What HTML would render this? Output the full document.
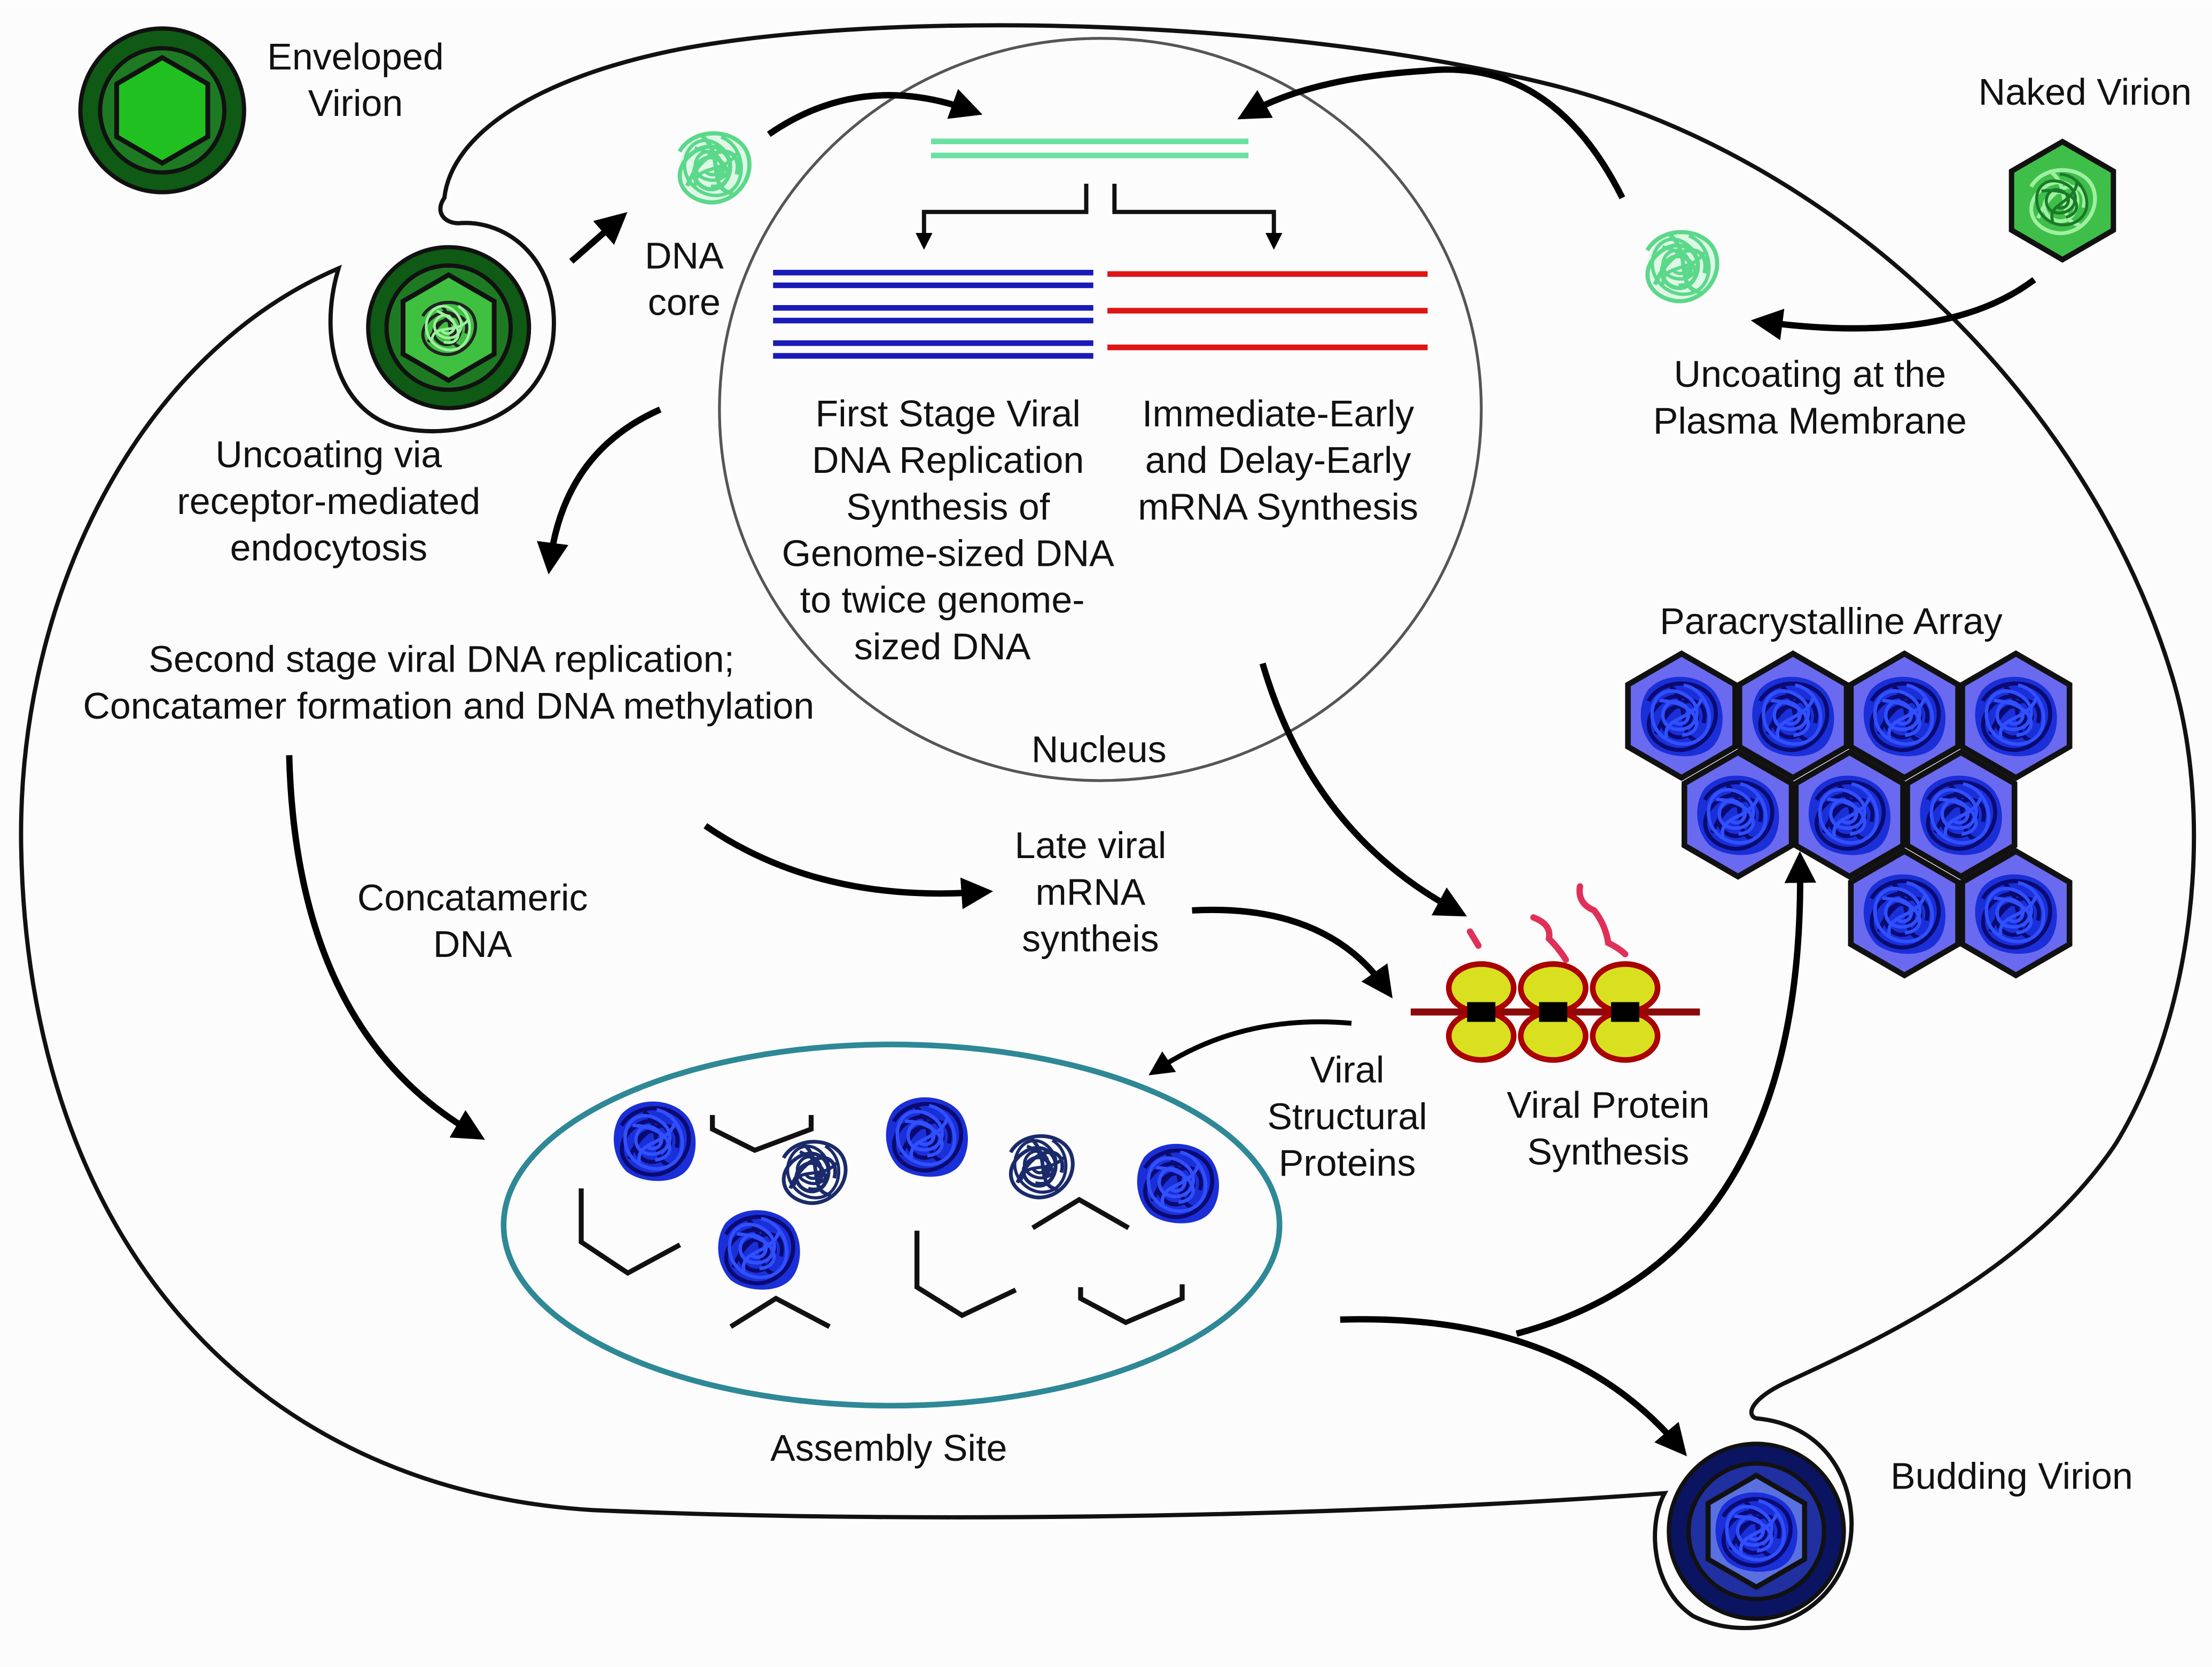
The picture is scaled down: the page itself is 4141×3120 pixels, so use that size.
<!DOCTYPE html>
<html><head><meta charset="utf-8"><style>
html,body{margin:0;padding:0;background:#fff;}
svg{display:block}
text{font-family:"Liberation Sans",Arial,sans-serif;font-size:26.5px;fill:#111;text-anchor:middle}
</style></head><body>
<svg width="4141" height="3120" viewBox="0 0 1568 1181" xmlns="http://www.w3.org/2000/svg">
<defs>
<marker id="ah" viewBox="0 0 10 10" refX="6" refY="5" markerWidth="5" markerHeight="5" orient="auto" markerUnits="strokeWidth">
<path d="M0,0 L10,5 L0,10 z" fill="#000"/></marker>
<marker id="ah2" viewBox="0 0 10 10" refX="6" refY="5" markerWidth="4" markerHeight="4" orient="auto" markerUnits="strokeWidth">
<path d="M0,0 L10,5 L0,10 z" fill="#000"/></marker>
<g id="tang">
<path d="M-18,-8 C-10,-22 14,-20 18,-6 C22,8 8,22 -6,18 C-20,14 -22,0 -10,-8 C2,-16 14,-4 6,8 C-2,18 -16,6 -8,-2 C0,-10 10,0 2,6 M-14,10 C-4,-14 16,-12 12,4 M-6,-16 C6,-6 -4,12 10,14" fill="none" stroke-width="2.2"/>
</g>
<g id="blob">
<path d="M-24,-18 C-12,-32 14,-30 24,-16 C32,-4 30,14 22,22 C12,32 -10,30 -20,22 C-30,12 -32,-6 -24,-18 Z" fill="#1a2fd8"/>
<use href="#tang" stroke="#0a0a70" transform="scale(1.3)"/>
<use href="#tang" stroke="#3050ff" transform="rotate(70) scale(1.1)"/>
</g>
<polygon id="hex" points="0,-44 38,-22 38,22 0,44 -38,22 -38,-22"/>
</defs>
<rect width="1568" height="1181" fill="#fcfcfc"/>

<!-- Cell membrane (single closed curve) -->
<path d="M315,140 C320,95 380,55 480,35 C620,8 900,10 1100,60 C1300,110 1480,280 1540,480 C1570,580 1555,720 1500,810 C1440,900 1330,950 1265,980 C1240,992 1238,1003 1245,1005 C1300,1010 1320,1060 1310,1100 C1295,1150 1240,1165 1200,1145 C1170,1125 1168,1080 1180,1058 C950,1075 650,1080 420,1070 C180,1055 20,880 15,600 C12,420 100,250 240,190 C225,240 240,290 280,302 C330,315 385,290 392,240 C398,185 360,155 325,158 C315,158 308,150 315,140 Z" fill="none" stroke="#111" stroke-width="3"/>

<!-- Nucleus -->
<ellipse cx="780" cy="290" rx="270" ry="263" fill="none" stroke="#555" stroke-width="2"/>

<!-- Assembly site -->
<ellipse cx="632" cy="868" rx="275" ry="128" fill="none" stroke="#2e8896" stroke-width="4"/>

<!-- Enveloped virion -->
<circle cx="115" cy="78" r="58" fill="#0f5a14" stroke="#111" stroke-width="3"/>
<circle cx="115" cy="78" r="44" fill="#1e7a22" stroke="#111" stroke-width="3"/>
<g transform="translate(115,78) scale(0.85)"><use href="#hex" fill="#20c020" stroke="#111" stroke-width="4"/></g>

<!-- Endocytosed virion -->
<circle cx="318" cy="232" r="57" fill="#0f5a14" stroke="#111" stroke-width="3"/>
<circle cx="318" cy="232" r="44" fill="#1e7a22" stroke="#111" stroke-width="3"/>
<g transform="translate(318,232) scale(0.85)"><use href="#hex" fill="#40c040" stroke="#111" stroke-width="4"/>
<use href="#tang" stroke="#222" transform="scale(1.2)"/><use href="#tang" stroke="#9ef0a0" transform="rotate(90)"/></g>

<!-- DNA core -->
<g transform="translate(506,118)"><circle r="24" fill="#c8f5d6" opacity=".6"/><use href="#tang" stroke="#5bd88a" transform="scale(1.35)"/><use href="#tang" stroke="#5bd88a" transform="rotate(80) scale(1.1)"/></g>
<g transform="translate(1192,188)"><circle r="24" fill="#c8f5d6" opacity=".6"/><use href="#tang" stroke="#5bd88a" transform="scale(1.35)"/><use href="#tang" stroke="#5bd88a" transform="rotate(80) scale(1.1)"/></g>

<!-- Naked virion -->
<g transform="translate(1462,142) scale(0.95)"><use href="#hex" fill="#3fbf4a" stroke="#111" stroke-width="4"/><use href="#tang" stroke="#9ef0a0" transform="scale(1.3)"/><use href="#tang" stroke="#1a7a2a" transform="rotate(60)"/></g>

<!-- DNA strands -->
<line x1="660" y1="100" x2="885" y2="100" stroke="#6be0a0" stroke-width="4"/>
<line x1="660" y1="110" x2="885" y2="110" stroke="#6be0a0" stroke-width="4"/>
<path d="M770,130 V150 H655 V172" fill="none" stroke="#111" stroke-width="3" marker-end="url(#ah2)"/>
<path d="M790,130 V150 H903 V172" fill="none" stroke="#111" stroke-width="3" marker-end="url(#ah2)"/>
<g stroke="#1a1ab8" stroke-width="4">
<line x1="548" y1="193" x2="775" y2="193"/><line x1="548" y1="202" x2="775" y2="202"/>
<line x1="548" y1="218" x2="775" y2="218"/><line x1="548" y1="227" x2="775" y2="227"/>
<line x1="548" y1="243" x2="775" y2="243"/><line x1="548" y1="252" x2="775" y2="252"/>
</g>
<g stroke="#e01414" stroke-width="4">
<line x1="785" y1="194" x2="1012" y2="194"/><line x1="785" y1="220" x2="1012" y2="220"/><line x1="785" y1="246" x2="1012" y2="246"/>
</g>

<!-- Arrows -->
<g fill="none" stroke="#000" stroke-width="4.5">
<path d="M405,185 L438,156" marker-end="url(#ah)"/>
<path d="M545,95 Q610,50 688,78" marker-end="url(#ah)"/>
<path d="M1150,140 Q1100,40 1010,50 Q930,55 885,80" marker-end="url(#ah)"/>
<path d="M1442,198 Q1380,245 1250,228" marker-end="url(#ah)"/>
<path d="M468,290 Q400,320 390,398" marker-end="url(#ah)"/>
<path d="M205,535 Q210,730 336,803" marker-end="url(#ah)"/>
<path d="M500,585 Q580,640 695,632" marker-end="url(#ah)"/>
<path d="M845,645 Q940,640 982,700" marker-end="url(#ah)"/>
<path d="M895,470 Q930,590 1032,645" marker-end="url(#ah)"/>
<path d="M958,725 Q880,718 820,758" stroke-width="3.5" marker-end="url(#ah)"/>
<path d="M950,935 Q1110,930 1190,1025" marker-end="url(#ah)"/>
<path d="M1075,945 Q1280,890 1276,612" marker-end="url(#ah)"/>
</g>

<!-- Ribosomes -->
<line x1="1000" y1="717" x2="1205" y2="717" stroke="#8a0a0a" stroke-width="5"/>
<g stroke="#a00" stroke-width="4" fill="#d8e020">
<ellipse cx="1050" cy="700" rx="23" ry="17"/><ellipse cx="1050" cy="734" rx="23" ry="17"/>
<ellipse cx="1101" cy="700" rx="23" ry="17"/><ellipse cx="1101" cy="734" rx="23" ry="17"/>
<ellipse cx="1152" cy="700" rx="23" ry="17"/><ellipse cx="1152" cy="734" rx="23" ry="17"/>
</g>
<g fill="#000"><rect x="1040" y="710" width="20" height="14"/><rect x="1091" y="710" width="20" height="14"/><rect x="1142" y="710" width="20" height="14"/></g>
<g fill="none" stroke="#e0305a" stroke-width="4.5" stroke-linecap="round">
<path d="M1042,660 L1048,670"/>
<path d="M1087,650 Q1100,655 1098,665 Q1105,672 1110,680"/>
<path d="M1120,628 Q1118,640 1130,645 Q1138,655 1140,668 Q1148,672 1152,676"/>
</g>

<!-- Paracrystalline array -->
<g fill="#6a6af0" stroke="#111" stroke-width="4">
<g transform="translate(1192,507)"><use href="#hex"/></g>
<g transform="translate(1271,507)"><use href="#hex"/></g>
<g transform="translate(1350,507)"><use href="#hex"/></g>
<g transform="translate(1429,507)"><use href="#hex"/></g>
<g transform="translate(1232,577)"><use href="#hex"/></g>
<g transform="translate(1311,577)"><use href="#hex"/></g>
<g transform="translate(1390,577)"><use href="#hex"/></g>
<g transform="translate(1350,647)"><use href="#hex"/></g>
<g transform="translate(1429,647)"><use href="#hex"/></g>
</g>
<g>
<use href="#blob" x="1192" y="507"/><use href="#blob" x="1271" y="507"/><use href="#blob" x="1350" y="507"/><use href="#blob" x="1429" y="507"/>
<use href="#blob" x="1232" y="577"/><use href="#blob" x="1311" y="577"/><use href="#blob" x="1390" y="577"/>
<use href="#blob" x="1350" y="647"/><use href="#blob" x="1429" y="647"/>
</g>

<!-- Budding virion -->
<circle cx="1245" cy="1085" r="62" fill="#0a1460" stroke="#111" stroke-width="3"/>
<circle cx="1245" cy="1085" r="48" fill="#2030a0" stroke="#111" stroke-width="3"/>
<g transform="translate(1245,1085) scale(0.9)"><use href="#hex" fill="#5a70e0" stroke="#111" stroke-width="4"/></g>
<use href="#blob" x="1245" y="1085"/>

<!-- Assembly contents -->
<use href="#blob" x="464" y="808"/>
<use href="#blob" x="657" y="805"/>
<use href="#blob" x="538" y="885"/>
<use href="#blob" x="835" y="838"/>
<g transform="translate(577,830)"><use href="#tang" stroke="#1a2a6a" transform="scale(1.2)"/><use href="#tang" stroke="#1a2a6a" transform="rotate(90)"/></g>
<g transform="translate(738,826)"><use href="#tang" stroke="#1a2a6a" transform="scale(1.2)"/><use href="#tang" stroke="#1a2a6a" transform="rotate(90)"/></g>
<g fill="none" stroke="#111" stroke-width="3.5">
<path d="M505,790 V800 L535,815 L575,800 V790"/>
<path d="M412,842 V880 L445,902 L482,882"/>
<path d="M518,940 L550,920 L588,940"/>
<path d="M650,872 V912 L682,932 L720,914"/>
<path d="M732,870 L765,850 L800,870"/>
<path d="M766,912 V920 L798,937 L838,920 V910"/>
</g>

<!-- Labels -->
<text x="252" y="49">Enveloped</text><text x="252" y="82">Virion</text>
<text x="1478" y="74">Naked Virion</text>
<text x="485" y="190">DNA</text><text x="485" y="223">core</text>
<text x="233" y="331">Uncoating via</text><text x="233" y="364">receptor-mediated</text><text x="233" y="397">endocytosis</text>
<text x="1283" y="274">Uncoating at the</text><text x="1283" y="307">Plasma Membrane</text>
<text x="672" y="302">First Stage Viral</text><text x="672" y="335">DNA Replication</text><text x="672" y="368">Synthesis of</text><text x="672" y="401">Genome-sized DNA</text><text x="668" y="434">to twice genome-</text><text x="668" y="467">sized DNA</text>
<text x="906" y="302">Immediate-Early</text><text x="906" y="335">and Delay-Early</text><text x="906" y="368">mRNA Synthesis</text>
<text x="1298" y="449">Paracrystalline Array</text>
<text x="313" y="476">Second stage viral DNA replication;</text><text x="318" y="509">Concatamer formation and DNA methylation</text>
<text x="779" y="540">Nucleus</text>
<text x="335" y="645">Concatameric</text><text x="335" y="678">DNA</text>
<text x="773" y="608">Late viral</text><text x="773" y="641">mRNA</text><text x="773" y="674">syntheis</text>
<text x="955" y="767">Viral</text><text x="955" y="800">Structural</text><text x="955" y="833">Proteins</text>
<text x="1140" y="792">Viral Protein</text><text x="1140" y="825">Synthesis</text>
<text x="630" y="1035">Assembly Site</text>
<text x="1426" y="1055">Budding Virion</text>
</svg>
</body></html>
